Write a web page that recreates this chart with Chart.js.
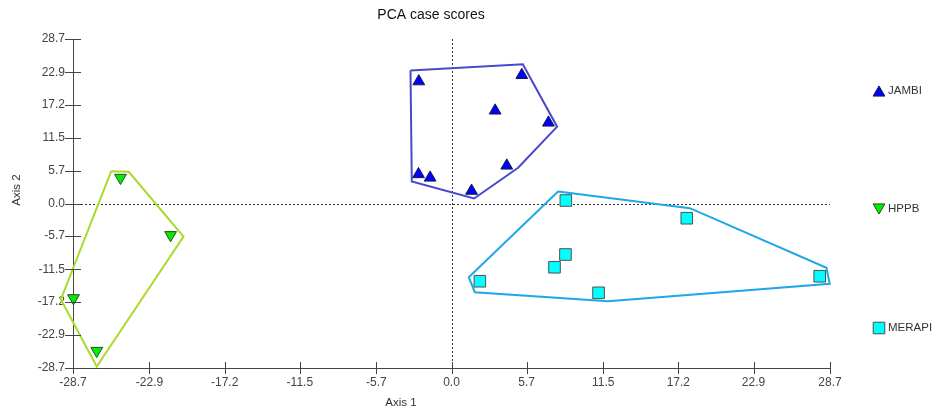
<!DOCTYPE html>
<html>
<head>
<meta charset="utf-8">
<script src="https://cdn.jsdelivr.net/npm/chart.js@4/dist/chart.umd.min.js"></script>
<style>
  html, body { margin: 0; padding: 0; background: #fff; }
  #wrap { position: relative; width: 932px; height: 410px; }
</style>
</head>
<body>
<div id="wrap"><canvas id="c" width="932" height="410"></canvas></div>
<script>
// Tick labels shared by both axes
const tickLabels = ['-28.7', '-22.9', '-17.2', '-11.5', '-5.7', '0.0', '5.7', '11.5', '17.2', '22.9', '28.7'];

// Group names
const groups = ['JAMBI', 'HPPB', 'MERAPI'];

// Case scores per group (Axis 1, Axis 2)
const jambiX = [-2.48, 5.33, 3.31, 7.35, -2.50, -1.62, 4.19, 1.52];
const jambiY = [21.3, 22.4, 16.2, 14.1, 5.1, 4.5, 6.6, 2.2];
const hppbX = [-25.1, -21.3, -28.66, -26.9];
const hppbY = [4.5, -5.5, -16.5, -25.7];
const merapiX = [8.67, 17.84, 8.64, 7.81, 2.15, 11.15, 27.92];
const merapiY = [0.52, -2.57, -8.90, -11.12, -13.56, -15.58, -12.69];

// Convex hull outlines per group
const jambiHullX = [-3.11, 5.41, 8.01, 5.05, 1.71, -3.01];
const jambiHullY = [23.2, 24.3, 13.4, 6.23, 0.87, 3.84];
const hppbHullX = [-25.8, -24.47, -20.32, -26.9, -29.62];
const hppbHullY = [5.64, 5.53, -5.76, -28.45, -16.75];
const merapiHullX = [8.08, 18.07, 28.43, 28.68, 11.87, 1.77, 1.31];
const merapiHullY = [2.09, -0.82, -11.22, -14.01, -17.05, -15.48, -12.86];

const tickValues = tickLabels.map(Number);
const toPts = (xs, ys) => xs.map((x, i) => ({ x: x, y: ys[i] }));
const closed = (xs, ys) => { const p = toPts(xs, ys); p.push(p[0]); return p; };

const styles = {
  JAMBI:  { fill: '#0000ff', edge: '#1a1a4a', hull: '#4848cc', shape: 'triangle', rot: 0, r: 6.8 },
  HPPB:   { fill: '#00ee00', edge: '#2a4a2a', hull: '#a8dc28', shape: 'triangle', rot: 180, r: 6.8 },
  MERAPI: { fill: '#00ffff', edge: '#505050', hull: '#1ea8e6', shape: 'rect', rot: 0, r: 8.2 }
};

const pointSets = [toPts(jambiX, jambiY), toPts(hppbX, hppbY), toPts(merapiX, merapiY)];
const hullSets = [closed(jambiHullX, jambiHullY), closed(hppbHullX, hppbHullY), closed(merapiHullX, merapiHullY)];

const datasets = [];
groups.forEach((g, i) => {
  const s = styles[g];
  datasets.push({
    label: g + ' hull', data: hullSets[i], showLine: true, tension: 0,
    borderColor: s.hull, borderWidth: 2, pointRadius: 0, fill: false, clip: false, order: 2
  });
});
groups.forEach((g, i) => {
  const s = styles[g];
  datasets.push({
    label: g, data: pointSets[i], showLine: false,
    pointStyle: s.shape, rotation: s.rot, pointRadius: s.r,
    backgroundColor: s.fill, borderColor: s.edge, borderWidth: 1, clip: false, order: 1
  });
});

const FONT = '"Liberation Sans", Arial, sans-serif';

function shape(ctx, kind, rot, r, x, y) {
  ctx.beginPath();
  if (kind === 'rect') {
    const h = r / Math.SQRT2;
    ctx.rect(x - h, y - h, 2 * h, 2 * h);
  } else {
    const a0 = rot * Math.PI / 180;
    for (let k = 0; k < 3; k++) {
      const a = a0 + k * 2 * Math.PI / 3;
      const px = x + Math.sin(a) * r, py = y - Math.cos(a) * r;
      if (k === 0) ctx.moveTo(px, py); else ctx.lineTo(px, py);
    }
    ctx.closePath();
  }
}

const decor = {
  id: 'decor',
  beforeDatasetsDraw(chart) {
    const { ctx, chartArea: a, scales: { x, y } } = chart;
    const x0 = x.getPixelForValue(0), y0 = y.getPixelForValue(0);
    ctx.save();
    ctx.strokeStyle = '#333';
    ctx.lineWidth = 1;
    ctx.setLineDash([2, 2]);
    ctx.beginPath();
    ctx.moveTo(Math.round(x0) + 0.5, a.top);
    ctx.lineTo(Math.round(x0) + 0.5, a.bottom);
    ctx.moveTo(a.left, Math.round(y0) + 0.5);
    ctx.lineTo(a.right, Math.round(y0) + 0.5);
    ctx.stroke();
    ctx.restore();
  },
  afterDraw(chart) {
    const { ctx, chartArea: a, scales: { x, y } } = chart;
    ctx.save();
    // crossing tick marks
    ctx.strokeStyle = '#444';
    ctx.lineWidth = 1;
    ctx.beginPath();
    tickValues.forEach(v => {
      const py = Math.round(y.getPixelForValue(v)) + 0.5;
      ctx.moveTo(a.left - 8, py); ctx.lineTo(a.left + 8, py);
      const px = Math.round(x.getPixelForValue(v)) + 0.5;
      ctx.moveTo(px, a.bottom - 6); ctx.lineTo(px, a.bottom + 6);
    });
    ctx.stroke();

    // title and axis titles
    ctx.fillStyle = '#111';
    ctx.textAlign = 'center';
    ctx.textBaseline = 'middle';
    ctx.font = '14px ' + FONT;
    ctx.fillText('PCA case scores', 431, 15);
    ctx.fillStyle = '#333';
    ctx.font = '11.5px ' + FONT;
    ctx.fillText('Axis 1', 401, 403);
    ctx.save();
    ctx.translate(17, 190);
    ctx.rotate(-Math.PI / 2);
    ctx.fillText('Axis 2', 0, 0);
    ctx.restore();

    // legend
    const legendY = [91, 209, 328];
    ctx.textAlign = 'left';
    ctx.font = '11.5px ' + FONT;
    groups.forEach((g, i) => {
      const s = styles[g];
      let cy = legendY[i];
      if (s.shape === 'triangle') cy += (s.rot ? -1 : 1) * s.r / 4;
      shape(ctx, s.shape, s.rot, s.r, 879, cy);
      ctx.fillStyle = s.fill; ctx.fill();
      ctx.strokeStyle = s.edge; ctx.lineWidth = 1; ctx.stroke();
      ctx.fillStyle = '#333';
      ctx.fillText(g, 888, legendY[i]);
    });
    ctx.restore();
  }
};

const axisCommon = (pos) => ({
  type: 'linear', position: pos, min: -28.7, max: 28.7,
  grid: { display: false, drawTicks: false },
  border: { display: true, color: '#444', width: 1 },
  afterBuildTicks: s => { s.ticks = tickValues.map(v => ({ value: v })); },
  ticks: {
    autoSkip: false, maxRotation: 0, color: '#444',
    font: { family: FONT, size: 12 },
    callback: (v, i) => tickLabels[i]
  }
});

const xAxis = axisCommon('bottom');
xAxis.ticks.padding = 7;
xAxis.afterFit = s => { s.height = 42; };
const yAxis = axisCommon('left');
yAxis.ticks.padding = 8;
yAxis.afterFit = s => { s.width = 73; };

new Chart(document.getElementById('c'), {
  type: 'scatter',
  data: { datasets: datasets },
  options: {
    responsive: false, animation: false,
    layout: { padding: { top: 39, right: 102, left: 0, bottom: 0 } },
    plugins: { legend: { display: false }, tooltip: { enabled: false }, title: { display: false } },
    scales: { x: xAxis, y: yAxis }
  },
  plugins: [decor]
});
</script>
</body>
</html>
